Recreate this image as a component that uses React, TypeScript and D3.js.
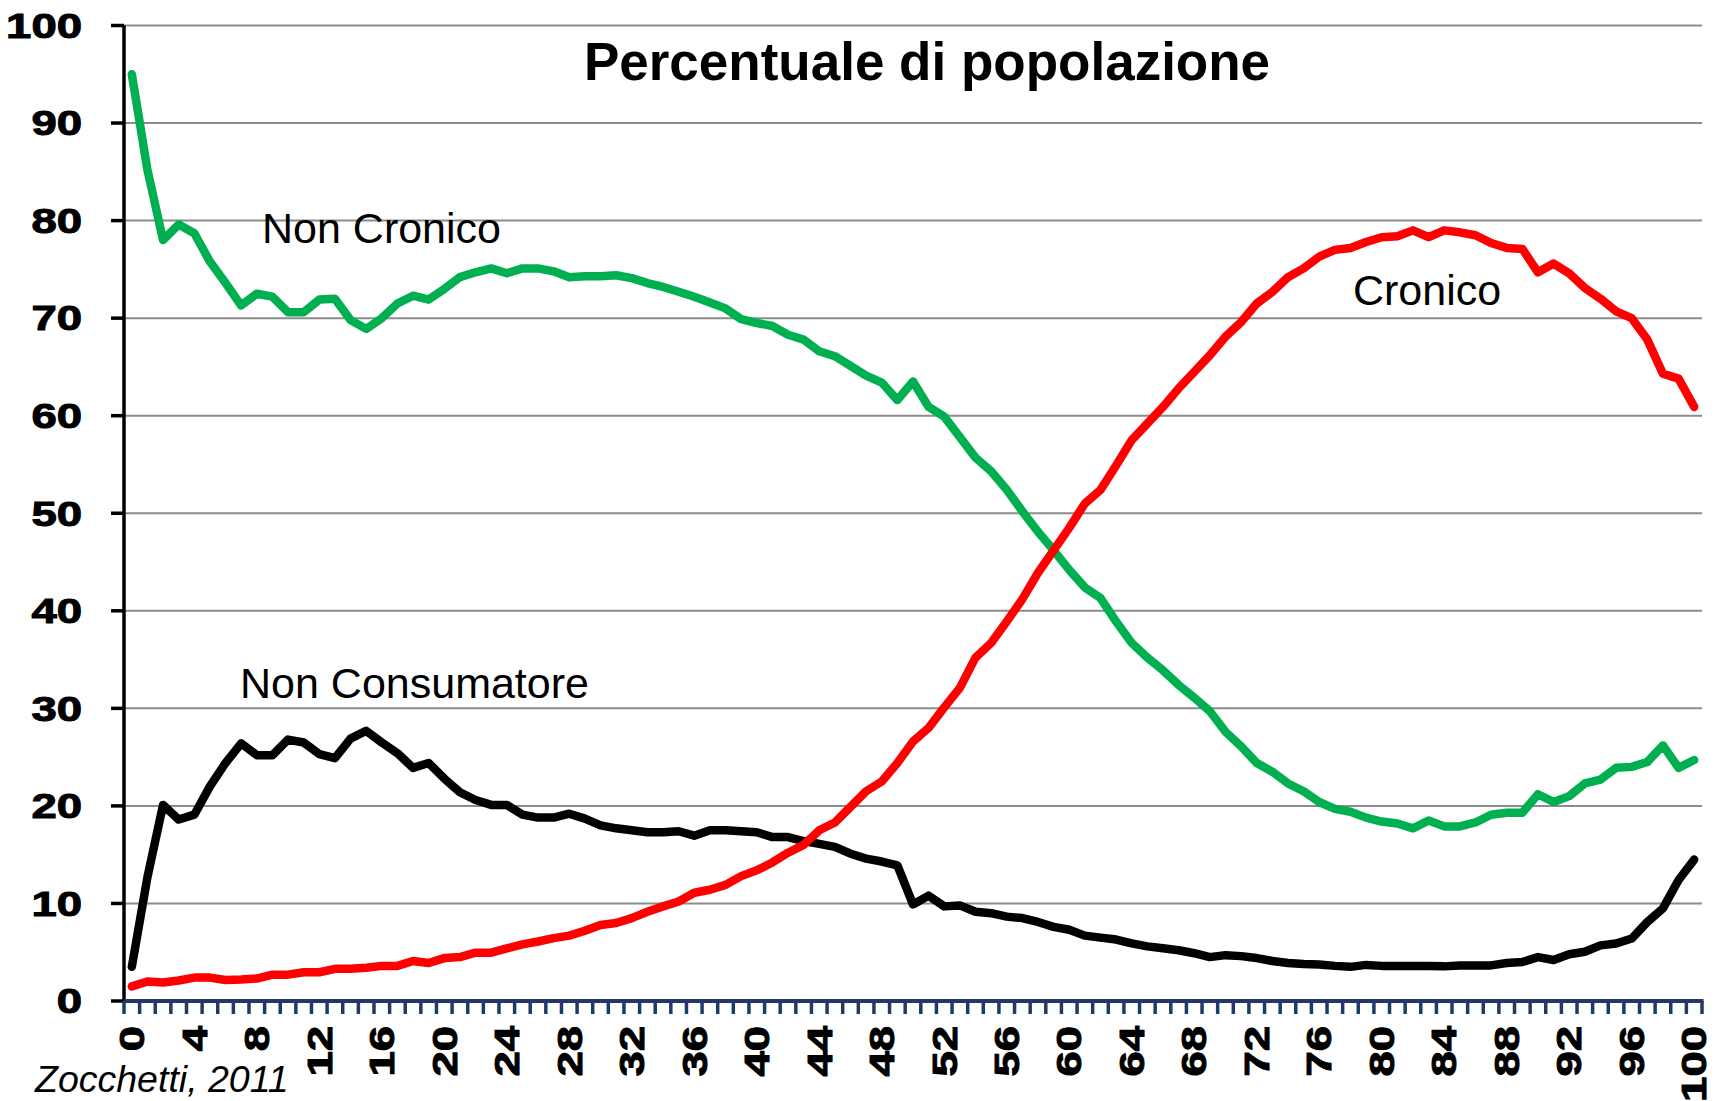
import React, { useEffect, useRef } from 'react';
import * as d3 from 'd3';

// età 0..100
const ages: number[] = d3.range(0, 101);
const xTickAges = [0, 4, 8, 12, 16, 20, 24, 28, 32, 36, 40, 44, 48, 52, 56, 60, 64, 68, 72, 76, 80, 84, 88, 92, 96, 100];
const yTicks = [0, 10, 20, 30, 40, 50, 60, 70, 80, 90, 100];

const nonCronico = [
  95.0, 85.2, 78.0, 79.6, 78.7, 75.8, 73.6, 71.3, 72.5, 72.2,
  70.6, 70.6, 71.9, 72.0, 69.8, 68.9, 70.0, 71.5, 72.3, 71.9,
  73.0, 74.2, 74.7, 75.1, 74.6, 75.1, 75.1, 74.8, 74.2, 74.3,
  74.3, 74.4, 74.1, 73.6, 73.2, 72.7, 72.2, 71.6, 71.0, 69.9,
  69.5, 69.2, 68.3, 67.8, 66.6, 66.1, 65.1, 64.1, 63.4, 61.6,
  63.5, 60.9, 59.9, 57.8, 55.7, 54.3, 52.4, 50.2, 48.1, 46.2,
  44.2, 42.4, 41.3, 38.9, 36.7, 35.2, 33.9, 32.4, 31.1, 29.7,
  27.6, 26.1, 24.4, 23.5, 22.3, 21.5, 20.4, 19.7, 19.4, 18.8,
  18.4, 18.2, 17.7, 18.5, 17.9, 17.9, 18.3, 19.1, 19.3, 19.3,
  21.2, 20.4, 21.0, 22.3, 22.7, 23.9, 24.0, 24.5, 26.2, 23.9,
  24.7,
];

const cronico = [
  1.5, 2.0, 1.9, 2.1, 2.4, 2.4, 2.15, 2.2, 2.3, 2.7,
  2.7, 2.95, 2.95, 3.3, 3.3, 3.4, 3.6, 3.6, 4.1, 3.9,
  4.4, 4.5, 4.95, 4.95, 5.4, 5.8, 6.1, 6.45, 6.7, 7.2,
  7.8, 8.0, 8.5, 9.15, 9.7, 10.2, 11.1, 11.4, 11.9, 12.8,
  13.4, 14.2, 15.2, 16.0, 17.5, 18.3, 19.9, 21.5, 22.5, 24.4,
  26.6, 28.0, 30.1, 32.1, 35.2, 36.7, 38.9, 41.2, 43.9, 46.2,
  48.5, 51.0, 52.4, 54.9, 57.5, 59.2, 60.9, 62.8, 64.5, 66.2,
  68.1, 69.6, 71.5, 72.7, 74.2, 75.1, 76.3, 77.0, 77.2, 77.8,
  78.3, 78.4, 79.0, 78.3, 79.0, 78.8, 78.5, 77.7, 77.2, 77.1,
  74.7, 75.6, 74.6, 73.1, 72.0, 70.7, 70.0, 67.8, 64.3, 63.8,
  60.9,
];

const nonConsumatore = [
  3.5, 12.7, 20.1, 18.6, 19.1, 22.0, 24.4, 26.4, 25.2, 25.2,
  26.8, 26.5, 25.3, 24.9, 26.9, 27.7, 26.5, 25.4, 23.9, 24.4,
  22.8, 21.4, 20.6, 20.1, 20.1, 19.1, 18.8, 18.8, 19.2, 18.7,
  18.0, 17.7, 17.5, 17.3, 17.3, 17.4, 16.95, 17.5, 17.5, 17.4,
  17.3, 16.8, 16.8, 16.4, 16.1, 15.8, 15.1, 14.6, 14.3, 13.9,
  9.9, 10.8, 9.7, 9.8, 9.15, 9.0, 8.65, 8.5, 8.1, 7.6,
  7.3, 6.7, 6.5, 6.3, 5.9, 5.6, 5.4, 5.2, 4.9, 4.5,
  4.7, 4.6, 4.4, 4.1, 3.9, 3.8, 3.75, 3.6, 3.5, 3.7,
  3.6, 3.6, 3.6, 3.6, 3.55, 3.65, 3.65, 3.65, 3.9, 4.0,
  4.5, 4.2, 4.8, 5.05, 5.7, 5.9, 6.4, 8.1, 9.5, 12.4,
  14.5,
];

const WIDTH = 1723;
const HEIGHT = 1101;
const FONT = '"Liberation Sans", Arial, sans-serif';

const Chart: React.FC = () => {
  const svgRef = useRef<SVGSVGElement | null>(null);

  useEffect(() => {
    if (!svgRef.current) return;
    const svg = d3.select(svgRef.current);
    svg.selectAll('*').remove();

    const x = d3.scaleBand<number>().domain(ages).range([124, 1702]);
    const y = d3.scaleLinear().domain([0, 100]).range([1001, 25.5]);
    const cx = (a: number) => (x(a) as number) + x.bandwidth() / 2;
    const [x0, x1] = x.range();

    // griglia
    svg
      .append('g')
      .selectAll('line')
      .data(yTicks.filter((t) => t > 0))
      .enter()
      .append('line')
      .attr('x1', x0)
      .attr('x2', x1)
      .attr('y1', (d) => y(d))
      .attr('y2', (d) => y(d))
      .attr('stroke', '#8c8c8c')
      .attr('stroke-width', 2);

    // asse y
    const yAxis = svg.append('g');
    yAxis
      .append('line')
      .attr('x1', x0)
      .attr('x2', x0)
      .attr('y1', y(100))
      .attr('y2', y(0))
      .attr('stroke', '#000')
      .attr('stroke-width', 3.5);
    yAxis
      .selectAll('.ytick')
      .data(yTicks)
      .enter()
      .append('line')
      .attr('x1', x0 - 13)
      .attr('x2', x0)
      .attr('y1', (d) => y(d))
      .attr('y2', (d) => y(d))
      .attr('stroke', '#000')
      .attr('stroke-width', 3.5);
    yAxis
      .selectAll('text')
      .data(yTicks)
      .enter()
      .append('text')
      .attr('transform', (d) => `translate(82,${y(d)}) scale(1.3,1)`)
      .attr('text-anchor', 'end')
      .attr('dy', '0.35em')
      .attr('font-family', FONT)
      .attr('font-weight', 'bold')
      .attr('font-size', 35)
      .attr('stroke', '#000')
      .attr('stroke-width', 1)
      .text((d) => d);

    // linee
    const line = d3
      .line<number>()
      .x((_, i) => cx(ages[i]))
      .y((d) => y(d));

    const series = [
      { values: nonConsumatore, color: '#000000' },
      { values: nonCronico, color: '#00B050' },
      { values: cronico, color: '#FF0000' },
    ];
    svg
      .append('g')
      .selectAll('path')
      .data(series)
      .enter()
      .append('path')
      .attr('d', (s) => line(s.values))
      .attr('fill', 'none')
      .attr('stroke', (s) => s.color)
      .attr('stroke-width', 8.5)
      .attr('stroke-linejoin', 'round')
      .attr('stroke-linecap', 'round');

    // asse x
    const xAxis = svg.append('g');
    const bounds = ages.map((a) => x(a) as number).concat([x1]);
    xAxis
      .selectAll('.xtick')
      .data(bounds)
      .enter()
      .append('line')
      .attr('x1', (d) => d)
      .attr('x2', (d) => d)
      .attr('y1', y(0))
      .attr('y2', y(0) + 13)
      .attr('stroke', '#1F3A63')
      .attr('stroke-width', 3.5);
    xAxis
      .append('line')
      .attr('x1', x0)
      .attr('x2', x1 + 1.5)
      .attr('y1', y(0))
      .attr('y2', y(0))
      .attr('stroke', '#1F3A63')
      .attr('stroke-width', 4);
    xAxis
      .selectAll('text')
      .data(xTickAges)
      .enter()
      .append('text')
      .attr('transform', (d) => `translate(${cx(d)},1026) rotate(-90) scale(1.3,1)`)
      .attr('text-anchor', 'end')
      .attr('dy', '0.35em')
      .attr('font-family', FONT)
      .attr('font-weight', 'bold')
      .attr('font-size', 35)
      .attr('stroke', '#000')
      .attr('stroke-width', 1)
      .text((d) => d);

    // titolo ed etichette
    svg
      .append('text')
      .attr('x', 927)
      .attr('y', 80)
      .attr('text-anchor', 'middle')
      .attr('font-family', FONT)
      .attr('font-weight', 'bold')
      .attr('font-size', 53)
      .text('Percentuale di popolazione');

    const labels = [
      { text: 'Non Cronico', x: 262, y: 243 },
      { text: 'Cronico', x: 1353, y: 305 },
      { text: 'Non Consumatore', x: 240, y: 698 },
    ];
    svg
      .append('g')
      .selectAll('text')
      .data(labels)
      .enter()
      .append('text')
      .attr('x', (d) => d.x)
      .attr('y', (d) => d.y)
      .attr('font-family', FONT)
      .attr('font-size', 43)
      .text((d) => d.text);

    svg
      .append('text')
      .attr('x', 35)
      .attr('y', 1092)
      .attr('font-family', FONT)
      .attr('font-style', 'italic')
      .attr('font-size', 37.5)
      .text('Zocchetti, 2011');
  }, []);

  return (
    <svg
      ref={svgRef}
      width={WIDTH}
      height={HEIGHT}
      style={{ position: 'absolute', left: 0, top: 0, background: '#fff' }}
    />
  );
};

export default function App() {
  return <Chart />;
}
